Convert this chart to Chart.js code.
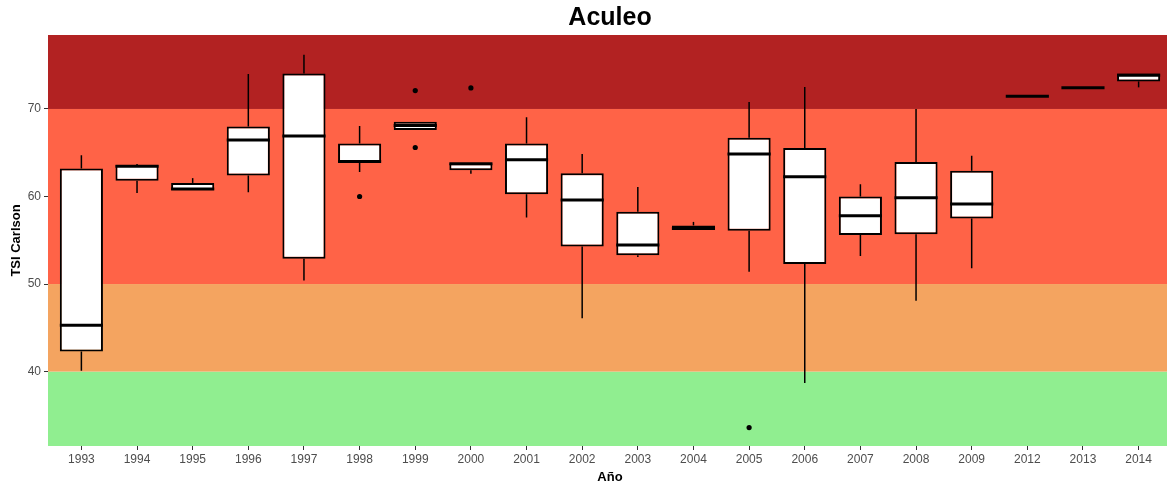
<!DOCTYPE html>
<html>
<head>
<meta charset="utf-8">
<title>Aculeo</title>
<script src="https://cdn.jsdelivr.net/npm/chart.js@4"></script>
<style>
  html, body { margin: 0; padding: 0; background: #fff; overflow: hidden; }
  #wrap { width: 1176px; height: 489px; }
</style>
</head>
<body>
<div id="wrap"><canvas id="c"></canvas></div>
<script>
// Yearly TSI (Carlson) summaries for Aculeo: box-plot statistics per year
const years       = ['1993','1994','1995','1996','1997','1998','1999','2000','2001','2002','2003','2004','2005','2006','2007','2008','2009','2012','2013','2014'];
const whiskerLow  = [40.1, 60.4, 60.75, 60.5, 50.4, 62.8, 67.6, 62.6, 57.6, 46.1, 53.1, 56.2, 51.4, 38.7, 53.2, 48.1, 51.8, 71.44, 72.42, 72.47];
const q1          = [42.3, 61.8, 60.75, 62.4, 52.9, 63.9, 67.6, 63.0, 60.25, 54.3, 53.3, 56.2, 56.1, 52.3, 55.6, 55.7, 57.5, 71.44, 72.42, 73.15];
const median      = [45.3, 63.45, 60.85, 66.45, 66.9, 64.0, 68.1, 63.75, 64.2, 59.6, 54.45, 56.35, 64.85, 62.25, 57.8, 59.85, 59.15, 71.44, 72.42, 73.85];
const q3          = [63.2, 63.6, 61.55, 68.0, 74.05, 66.05, 68.55, 63.8, 66.05, 62.65, 58.25, 56.7, 66.7, 65.55, 60.0, 63.95, 62.95, 71.44, 72.42, 74.05];
const whiskerHigh = [64.7, 63.7, 62.1, 74.0, 76.2, 68.05, 68.55, 63.8, 69.05, 64.85, 61.1, 57.1, 70.8, 72.5, 61.4, 70.0, 64.65, 71.44, 72.42, 74.05];

// Outlying observations
const outlierYears  = ['1998', '1999', '1999', '2000', '2005'];
const outlierValues = [60.0, 72.1, 65.6, 72.4, 33.6];

// Trophic-state bands (lower limit, upper limit, colour)
const bandLow    = [-Infinity, 40, 50, 70];
const bandHigh   = [40, 50, 70, Infinity];
const bandColors = ['#90EE90', '#F4A460', '#FF6347', '#B22222'];

const yTicks = [40, 50, 60, 70];
const yMin = 31.5, yMax = 78.45;

const FONT = "'Liberation Sans', Arial, Helvetica, sans-serif";

const bandsAndWhiskers = {
  id: 'bandsAndWhiskers',
  beforeDatasetsDraw(chart) {
    const { ctx, chartArea: a, scales: { x, y } } = chart;
    ctx.save();
    ctx.beginPath();
    ctx.rect(a.left, a.top, a.right - a.left, a.bottom - a.top);
    ctx.clip();
    for (let i = 0; i < bandColors.length; i++) {
      const top = Math.max(a.top, y.getPixelForValue(Math.min(bandHigh[i], y.max)));
      const bot = Math.min(a.bottom, y.getPixelForValue(Math.max(bandLow[i], y.min)));
      ctx.fillStyle = bandColors[i];
      ctx.fillRect(a.left, top, a.right - a.left, bot - top);
    }
    ctx.strokeStyle = '#000';
    ctx.lineWidth = 1.5;
    years.forEach((_, i) => {
      const px = x.getPixelForValue(i);
      ctx.beginPath();
      ctx.moveTo(px, y.getPixelForValue(whiskerHigh[i]));
      ctx.lineTo(px, y.getPixelForValue(q3[i]));
      ctx.moveTo(px, y.getPixelForValue(q1[i]));
      ctx.lineTo(px, y.getPixelForValue(whiskerLow[i]));
      ctx.stroke();
    });
    ctx.restore();
  },
  afterDatasetsDraw(chart) {
    const { ctx, scales: { y } } = chart;
    const boxes = chart.getDatasetMeta(0).data;
    ctx.save();
    ctx.strokeStyle = '#000';
    ctx.lineWidth = 3;
    boxes.forEach((bar, i) => {
      const py = y.getPixelForValue(median[i]);
      ctx.beginPath();
      ctx.moveTo(bar.x - bar.width / 2, py);
      ctx.lineTo(bar.x + bar.width / 2, py);
      ctx.stroke();
    });
    ctx.restore();
  }
};

new Chart(document.getElementById('c'), {
  type: 'bar',
  data: {
    datasets: [
      {
        label: 'TSI',
        data: years.map((_, i) => ({ x: i, y: [q1[i], q3[i]] })),
        backgroundColor: '#ffffff',
        borderColor: '#000000',
        borderWidth: 2,
        borderSkipped: false,
        barPercentage: 0.775,
        categoryPercentage: 1
      },
      {
        type: 'scatter',
        label: 'outliers',
        data: outlierYears.map((yr, k) => ({ x: years.indexOf(yr), y: outlierValues[k] })),
        backgroundColor: '#000',
        borderColor: '#000',
        pointRadius: 2.6,
        borderWidth: 0
      }
    ]
  },
  options: {
    responsive: true,
    maintainAspectRatio: false,
    animation: false,
    events: [],
    layout: { padding: 0 },
    plugins: {
      legend: { display: false },
      tooltip: { enabled: false },
      title: {
        display: true,
        fullSize: false,
        text: 'Aculeo',
        color: '#000',
        font: { family: FONT, size: 25, weight: 'bold' },
        padding: { top: 3, bottom: 2 }
      }
    },
    scales: {
      x: {
        type: 'linear',
        offset: false,
        min: -0.6,
        max: years.length - 1 + 0.6,
        afterBuildTicks(s) { s.ticks = years.map((_, i) => ({ value: i })); },
        afterFit(s) { s.height = 43; },
        ticks: {
          autoSkip: false,
          maxRotation: 0,
          padding: 2,
          color: '#4d4d4d',
          font: { family: FONT, size: 12 },
          callback: (v) => years[v]
        },
        grid: { offset: false, drawOnChartArea: false, drawTicks: true, tickLength: 4, color: '#333' },
        border: { display: false },
        title: {
          display: true,
          text: 'Año',
          color: '#000',
          font: { family: FONT, size: 13, weight: 'bold' },
          padding: { top: 0, bottom: 4 }
        }
      },
      y: {
        min: yMin,
        max: yMax,
        afterBuildTicks(s) { s.ticks = yTicks.map(v => ({ value: v })); },
        afterFit(s) { s.width = 48; },
        ticks: {
          padding: 3,
          color: '#4d4d4d',
          font: { family: FONT, size: 12 }
        },
        grid: { drawOnChartArea: false, drawTicks: true, tickLength: 4, color: '#333' },
        border: { display: false },
        title: {
          display: true,
          text: 'TSI Carlson',
          color: '#000',
          font: { family: FONT, size: 13, weight: 'bold' },
          padding: { top: 9, bottom: 0 }
        }
      }
    }
  },
  plugins: [bandsAndWhiskers]
});
</script>
</body>
</html>
